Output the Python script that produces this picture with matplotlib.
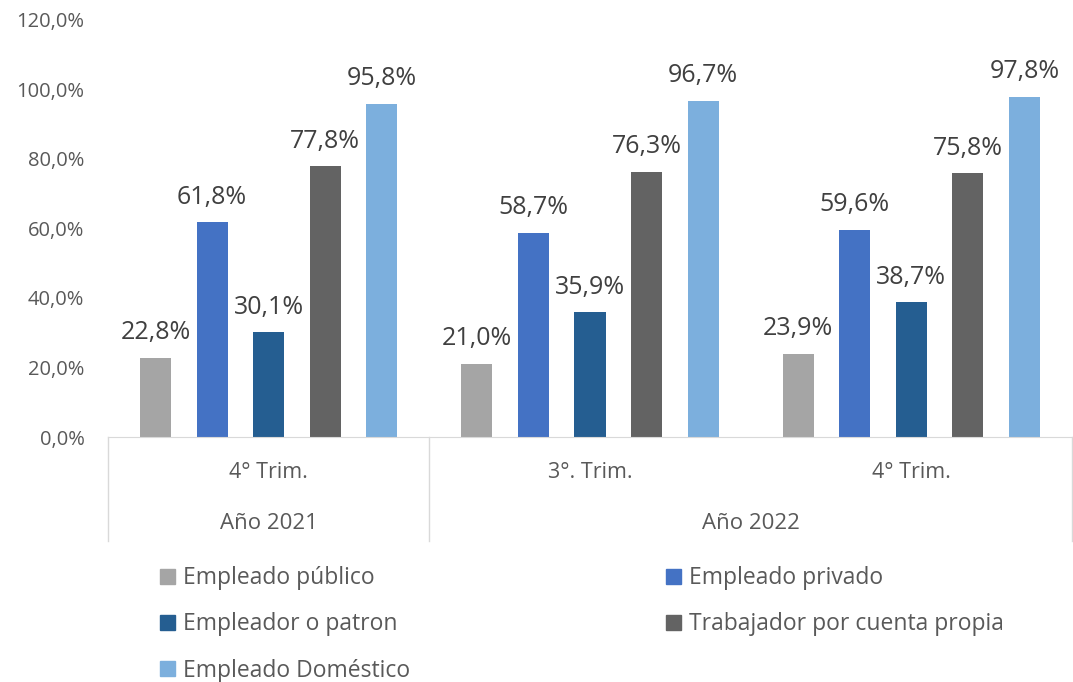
import numpy as np
import matplotlib
matplotlib.use("Agg")
import matplotlib.pyplot as plt
import matplotlib.transforms as mtransforms
from matplotlib.patches import Patch

plt.rcParams['font.family'] = ['Open Sans', 'DejaVu Sans']

trimestres = ['4° Trim.', '3°. Trim.', '4° Trim.']
anios = ['Año 2021', 'Año 2022']
anio_span = [(0, 0), (1, 2)]
series = ['Empleado público', 'Empleado privado', 'Empleador o patron',
          'Trabajador por cuenta propia', 'Empleado Doméstico']
publico = [22.8, 21.0, 23.9]
privado = [61.8, 58.7, 59.6]
patron = [30.1, 35.9, 38.7]
cuenta_propia = [77.8, 76.3, 75.8]
domestico = [95.8, 96.7, 97.8]
valores = [publico, privado, patron, cuenta_propia, domestico]
colores = ['#A5A5A5', '#4472C4', '#255E91', '#636363', '#7CAFDD']

txt = '#595959'
fig = plt.figure(figsize=(10.73, 6.82), dpi=100)
ax = fig.add_axes([0.1007, 0.3592, 0.8983, 0.6122])

x = np.arange(len(trimestres))
paso = 0.176
ancho = 0.097
for i, (vals, col) in enumerate(zip(valores, colores)):
    b = ax.bar(x + (i - 2) * paso, vals, width=ancho, color=col, label=series[i])
    ax.bar_label(b, labels=[f'{v:.1f}%'.replace('.', ',') for v in vals],
                 padding=9, fontsize=18, color='#404040')

ax.set_xlim(-0.5, 2.5)
ax.set_ylim(0, 120)
ax.set_yticks(np.arange(0, 121, 20))
ax.set_yticklabels([f'{v:.1f}%'.replace('.', ',') for v in np.arange(0, 121, 20)],
                   fontsize=14.5, color=txt)
ax.tick_params(axis='y', length=0, pad=17)
ax.set_xticks(x)
ax.set_xticklabels(trimestres, fontsize=15.5, color=txt)
ax.tick_params(axis='x', length=0, pad=18)
for s in ['top', 'right', 'left']:
    ax.spines[s].set_visible(False)
ax.spines['bottom'].set_color('#D9D9D9')

trans = mtransforms.blended_transform_factory(ax.transData, ax.transAxes)
for xs in [-0.5, 0.5, 2.5]:
    ax.plot([xs, xs], [0, -0.25], transform=trans, color='#D9D9D9', lw=1, clip_on=False)
for nombre, (a, b) in zip(anios, anio_span):
    ax.text((a + b) / 2, -0.208, nombre, transform=trans, ha='center', va='center',
            fontsize=16, color=txt)

orden = [0, 2, 4, 1, 3]
handles = [Patch(color=colores[i]) for i in orden]
fig.legend(handles, [series[i] for i in orden], ncol=2, loc='upper left',
           bbox_to_anchor=(0.130, 0.200), frameon=False, fontsize=16.5,
           labelcolor=txt, handlelength=0.65, handleheight=0.65,
           handletextpad=0.35, labelspacing=0.97, columnspacing=11.15)

fig.savefig('out.png', dpi=100)
